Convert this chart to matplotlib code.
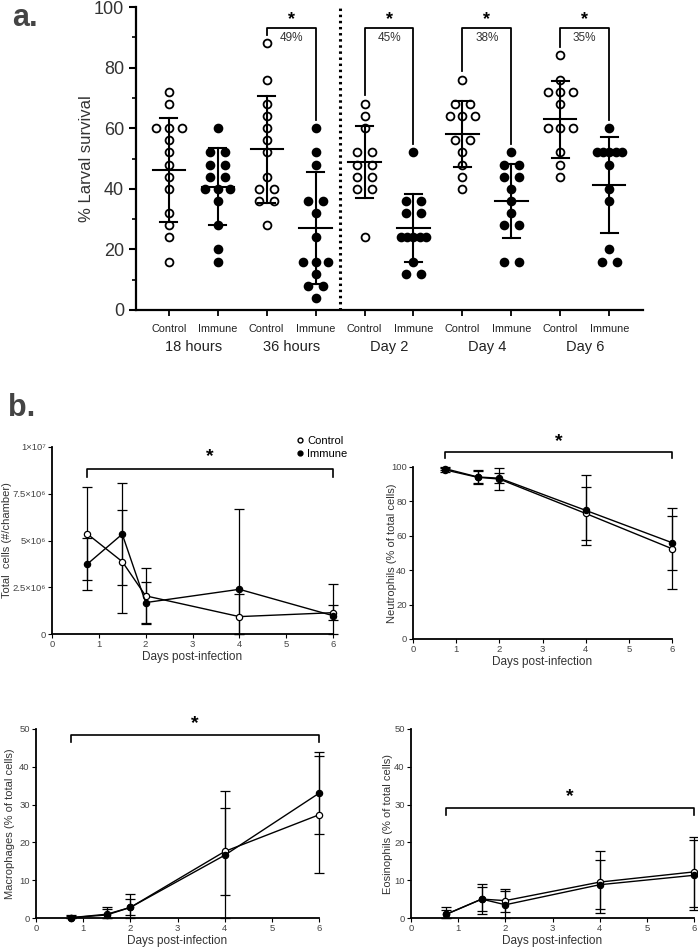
import numpy as np
import matplotlib
matplotlib.use('Agg')
import matplotlib.pyplot as plt
from matplotlib.lines import Line2D

plt.rcParams['font.family'] = ['Liberation Sans', 'DejaVu Sans']

# ---- panel a: larval survival, one dot per animal
groups = ['18 hours', '36 hours', 'Day 2', 'Day 4', 'Day 6']
ctrl_pts = [
    [72, 68, 60, 60, 60, 56, 52, 48, 44, 40, 32, 28, 24, 16],
    [88, 76, 68, 64, 60, 56, 52, 44, 40, 40, 36, 36, 28],
    [68, 64, 60, 52, 52, 48, 48, 44, 44, 40, 40, 24],
    [76, 68, 68, 64, 64, 64, 56, 56, 52, 48, 44, 40],
    [84, 76, 72, 72, 72, 68, 60, 60, 60, 52, 48, 44],
]
imm_pts = [
    [60, 52, 52, 48, 48, 44, 44, 40, 40, 40, 36, 28, 20, 16],
    [60, 52, 48, 36, 36, 32, 24, 16, 16, 16, 12, 8, 8, 4],
    [52, 36, 36, 32, 32, 24, 24, 24, 24, 24, 16, 12, 12],
    [52, 48, 48, 44, 44, 40, 36, 32, 28, 28, 16, 16],
    [60, 52, 52, 52, 52, 52, 48, 40, 36, 20, 16, 16],
]
ctrl_mean = [46.2, 53.0, 48.9, 58.2, 62.9]
ctrl_sd = [17.3, 17.7, 11.9, 10.9, 12.6]
imm_mean = [40.7, 27.0, 27.0, 36.0, 41.3]
imm_sd = [12.8, 18.5, 11.3, 12.3, 15.8]
pct = ['', '49%', '45%', '38%', '35%']

# ---- panel b: cell counts in chamber fluid
days = [0.75, 1.5, 2, 4, 6]
total_ctrl = [5.36e6, 3.87e6, 2.04e6, 0.93e6, 1.14e6]
total_ctrl_sd = [2.48e6, 2.76e6, 1.5e6, 1.2e6, 0.4e6]
total_imm = [3.73e6, 5.34e6, 1.68e6, 2.39e6, 0.98e6]
total_imm_sd = [1.4e6, 2.73e6, 1.1e6, 4.29e6, 1.72e6]
neut_ctrl = [98.3, 94.0, 93.0, 73.0, 52.5]
neut_ctrl_sd = [1.0, 4.0, 6.6, 15.5, 23.5]
neut_imm = [99.0, 94.2, 93.5, 74.8, 56.0]
neut_imm_sd = [0.8, 3.5, 3.0, 20.4, 15.7]
mac_ctrl = [0.1, 1.0, 2.8, 17.6, 27.3]
mac_ctrl_sd = [0.8, 2.0, 3.5, 11.6, 15.5]
mac_imm = [0.1, 0.8, 2.8, 16.6, 33.0]
mac_imm_sd = [0.5, 1.5, 2.1, 17.0, 10.8]
eos_ctrl = [1.0, 5.0, 4.6, 9.5, 12.2]
eos_ctrl_sd = [2.0, 4.0, 3.1, 8.3, 9.3]
eos_imm = [1.0, 5.0, 3.5, 8.8, 11.3]
eos_imm_sd = [1.2, 3.2, 3.7, 6.5, 9.3]

W, H = 698, 949
fig = plt.figure(figsize=(W / 100, H / 100), dpi=100)


def px_axes(l, r, t, b):
    return fig.add_axes([l / W, 1 - b / H, (r - l) / W, (b - t) / H])


def spread(vals):
    vals = np.asarray(vals)
    off = np.zeros(len(vals))
    for v in np.unique(vals):
        idx = np.where(vals == v)[0]
        n = len(idx)
        if n > 1:
            w = 0.15 if n == 2 else 0.26
            off[idx] = np.linspace(-w, w, n)
    return off


# ================= panel a
ax = px_axes(136, 643, 7, 310)
for i in range(5):
    xc, xi = 2 * i, 2 * i + 1
    for x0, pts, m, s, filled in [(xc, ctrl_pts[i], ctrl_mean[i], ctrl_sd[i], False),
                                  (xi, imm_pts[i], imm_mean[i], imm_sd[i], True)]:
        ax.scatter(x0 + spread(pts), pts, s=32, facecolor='k' if filled else 'white',
                   edgecolor='k', linewidth=1.3, zorder=2, clip_on=False)
        ax.plot([x0 - 0.33, x0 + 0.33], [m, m], color='k', lw=1.5, zorder=3)
        ax.plot([x0, x0], [m - s, m + s], color='k', lw=1.5, zorder=3)
        for yy in (m - s, m + s):
            ax.plot([x0 - 0.17, x0 + 0.17], [yy, yy], color='k', lw=1.5, zorder=3)
    if pct[i]:
        top = 93
        ax.plot([xc, xc, xi, xi], [max(ctrl_pts[i]) + 2.8, top, top, max(imm_pts[i]) + 2.8],
                color='k', lw=1.3, clip_on=False)
        ax.text((xc + xi) / 2, 95.8, '*', ha='center', va='center', fontsize=13,
                fontweight='bold')
        ax.text((xc + xi) / 2, top - 1.2, pct[i], ha='center', va='top', fontsize=8.5,
                color='#333')

ax.plot([3.5, 3.5], [0, 100], color='k', lw=2.2, linestyle=(0, (0.8, 1.2)), clip_on=False)
ax.set_xlim(-0.67, 9.69)
ax.set_ylim(0, 100)
ax.set_yticks(range(0, 101, 20))
ax.set_yticks(range(10, 100, 20), minor=True)
ax.set_xticks(range(10))
ax.set_xticklabels(['Control', 'Immune'] * 5, fontsize=7.8, color='#222')
ax.tick_params(axis='y', labelsize=13, labelcolor='#333', length=5, width=1.5)
ax.tick_params(axis='y', which='minor', length=3, width=1.2)
ax.tick_params(axis='x', length=4, width=1.3, pad=6)
for sp in ['top', 'right']:
    ax.spines[sp].set_visible(False)
for sp in ['left', 'bottom']:
    ax.spines[sp].set_linewidth(1.6)
ax.set_ylabel('% Larval survival', fontsize=12, color='#333')
ax.yaxis.set_label_coords(-0.083, 0.5)
for i, g in enumerate(groups):
    ax.text(2 * i + 0.5, -0.122, g, transform=ax.get_xaxis_transform(), ha='center',
            va='center', fontsize=10.5, color='#222')

fig.text(12 / W, 1 - 18 / H, 'a.', fontsize=22, fontweight='bold', color='#444', va='center')
fig.text(8 / W, 1 - 408 / H, 'b.', fontsize=22, fontweight='bold', color='#444', va='center')


# ================= panel b
def cell_panel(box, ctrl, ctrl_sd, imm, imm_sd, ymax, yticks, ylabel, lab_x, br, ticklabels=None):
    a = px_axes(*box)
    for m, s, mfc in [(ctrl, ctrl_sd, 'white'), (imm, imm_sd, 'k')]:
        m = np.asarray(m)
        s = np.asarray(s)
        lo = np.minimum(s, m)
        a.errorbar(days, m, yerr=[lo, s], fmt='-o', color='k', mfc=mfc, mec='k', ms=4.5,
                   mew=0.9, lw=1.0, elinewidth=0.9, capsize=3.5, capthick=0.9, clip_on=False)
    a.set_xlim(0, 6)
    a.set_ylim(0, ymax)
    a.set_xticks(range(7))
    a.set_yticks(yticks)
    if ticklabels is not None:
        a.set_yticklabels(ticklabels, fontsize=5.5)
    a.tick_params(labelsize=6.8, labelcolor='#444', length=3, width=0.8, pad=1.5)
    for sp in ['top', 'right']:
        a.spines[sp].set_visible(False)
    for sp in ['left', 'bottom']:
        a.spines[sp].set_linewidth(1.3)
    a.set_xlabel('Days post-infection', fontsize=8.5, color='#333', labelpad=1)
    a.set_ylabel(ylabel, fontsize=8, color='#333')
    a.yaxis.set_label_coords(lab_x, 0.5)
    top, leg, star = br
    a.plot([0.75, 0.75, 6, 6], [leg, top, top, leg], color='k', lw=1.2, clip_on=False)
    a.text(3.375, star, '*', ha='center', va='center', fontsize=14, fontweight='bold')
    return a


tl = cell_panel((52, 333, 447, 634), total_ctrl, total_ctrl_sd, total_imm, total_imm_sd,
                1e7, [0, 2.5e6, 5e6, 7.5e6, 1e7], 'Total  cells (#/chamber)', -0.142,
                (8.8e6, 8.4e6, 9.5e6),
                ['0', '2.5×10⁶', '5×10⁶', '7.5×10⁶', '1×10⁷'])
tr = cell_panel((413, 672, 467, 639), neut_ctrl, neut_ctrl_sd, neut_imm, neut_imm_sd,
                100, range(0, 101, 20), 'Neutrophils (% of total cells)', -0.062,
                (109, 105, 114.5))
bl = cell_panel((36, 319, 729, 918), mac_ctrl, mac_ctrl_sd, mac_imm, mac_imm_sd,
                50, range(0, 51, 10), 'Macrophages (% of total cells)', -0.074,
                (48.5, 46.5, 51.5))
br = cell_panel((411, 694, 729, 918), eos_ctrl, eos_ctrl_sd, eos_imm, eos_imm_sd,
                50, range(0, 51, 10), 'Eosinophils (% of total cells)', -0.064,
                (29.2, 27.2, 32.0))

handles = [Line2D([], [], marker='o', color='k', mfc='white', ms=3.5, lw=0),
           Line2D([], [], marker='o', color='k', mfc='k', ms=3.5, lw=0)]
tl.legend(handles, ['Control', 'Immune'], loc='upper left', bbox_to_anchor=(297 / W, 1 - 436 / H),
          bbox_transform=fig.transFigure, frameon=False, fontsize=8, handlelength=0.6,
          handletextpad=0.3, labelspacing=0.3, borderpad=0, borderaxespad=0)

fig.savefig('out.png', dpi=100)
